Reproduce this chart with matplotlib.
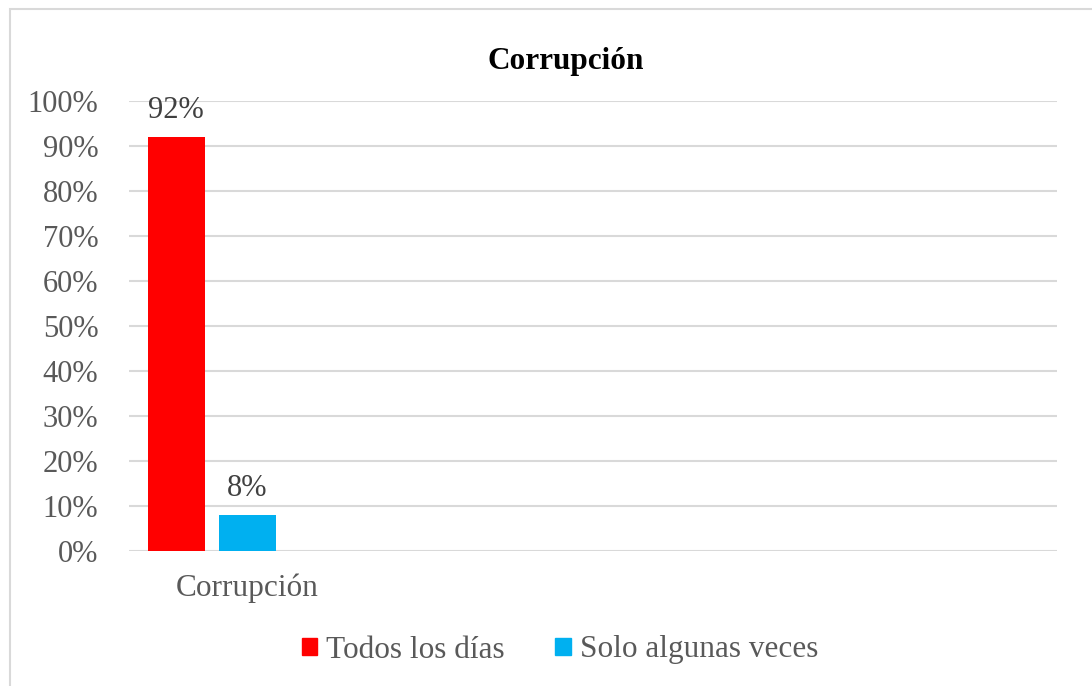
import matplotlib.pyplot as plt
from matplotlib.patches import Patch, Rectangle

categories = ['Corrupción']
series_names = ['Todos los días', 'Solo algunas veces']
todos = [92]
solo = [8]
colors = ['#FF0000', '#00B0F0']
yticks = [0, 10, 20, 30, 40, 50, 60, 70, 80, 90, 100]

plt.rcParams['font.family'] = ['Liberation Serif', 'DejaVu Serif']

fig = plt.figure(figsize=(10.92, 6.86), dpi=100)
# chart border, right/bottom edges fall outside the picture
fig.patches.append(Rectangle((10 / 1092, -0.1), 1.2, 0.1 + 1 - 9 / 686, transform=fig.transFigure,
                             fill=False, edgecolor='#D9D9D9', linewidth=1.5))

ax = fig.add_axes([129 / 1092, 1 - 551 / 686, (1057 - 129) / 1092, (551 - 101) / 686])

width = 0.2415
step = 0.3008
x = list(range(len(categories)))
# three series slots per category in the original, the third one is empty
b1 = ax.bar([i - step for i in x], todos, width, color=colors[0], zorder=3)
b2 = ax.bar(x, solo, width, color=colors[1], zorder=3)

for bars in (b1, b2):
    for r in bars:
        ax.annotate(f'{r.get_height():.0f}%', (r.get_x() + r.get_width() / 2, r.get_height()),
                    xytext=(0, 9), textcoords='offset points', ha='center', va='bottom',
                    fontsize=22, color='#404040')

ax.set_xlim(-0.5, 3.432)
ax.set_ylim(0, 100)
ax.set_yticks(yticks)
ax.set_yticklabels([f'{v}%' for v in yticks])
ax.set_xticks(x)
ax.set_xticklabels(categories)
ax.tick_params(axis='y', length=0, pad=22, labelsize=22, labelcolor='#595959')
ax.tick_params(axis='x', length=0, pad=16, labelsize=22.5, labelcolor='#595959')
ax.grid(axis='y', color='#D9D9D9', linewidth=1.5, zorder=0)
ax.set_axisbelow(True)
for s in ax.spines.values():
    s.set_visible(False)

fig.text(566 / 1092, 1 - 61 / 686, 'Corrupción', ha='center', va='center',
         fontsize=22.5, fontweight='bold', color='black')

handles = [Patch(color=c) for c in colors]
fig.legend(handles, series_names, loc='center', bbox_to_anchor=(560 / 1092, 1 - 650 / 686),
           ncol=2, frameon=False, fontsize=22.5, labelcolor='#595959',
           handlelength=0.5, handleheight=0.5, handletextpad=0.3, columnspacing=1.6)

fig.savefig('out.png', dpi=100)
